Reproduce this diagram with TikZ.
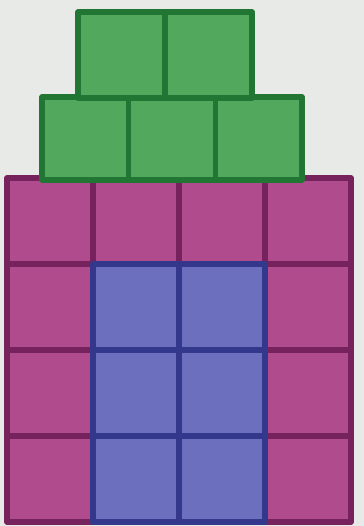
\documentclass[tikz,border=0pt]{standalone}
\usepackage{tikz}

\definecolor{paper}{RGB}{232,234,231}
\definecolor{greenfill}{RGB}{82,168,92}
\definecolor{greenline}{RGB}{34,118,52}
\definecolor{magfill}{RGB}{176,76,142}
\definecolor{magline}{RGB}{118,34,92}
\definecolor{bluefill}{RGB}{108,110,190}
\definecolor{blueline}{RGB}{52,56,140}

\begin{document}
\begin{tikzpicture}[
            x=0.02cm, y=-0.02cm,
            tile/.style={line width=3pt, line join=round},
            greentile/.style={tile, fill=greenfill, draw=greenline},
            magtile/.style={tile, fill=magfill, draw=magline},
            bluetile/.style={tile, fill=bluefill, draw=blueline}
        ]
        \fill[paper] (0,0) rectangle (364,526);
        \useasboundingbox (0,0) rectangle (364,526);

        % --- magenta square, 4 by 4 ---
        \foreach \i in {0,...,3}
            \foreach \j in {0,...,3}
                \draw[magtile] ({7+86*\i},{178+86*\j}) rectangle ++(86,86);

        % --- blue block inside ---
        \foreach \i in {1,2}
            \foreach \j in {1,2,3}
                \draw[bluetile] ({7+86*\i},{178+86*\j}) rectangle ++(86,86);

        % --- green rows on top ---
        \foreach \i in {0,1,2}
            \draw[greentile] ({42+86.7*\i},97) rectangle ++(86.7,83);
        \foreach \i in {0,1}
            \draw[greentile] ({78+87*\i},12) rectangle ++(87,86);

        \end{tikzpicture}
\end{document}
